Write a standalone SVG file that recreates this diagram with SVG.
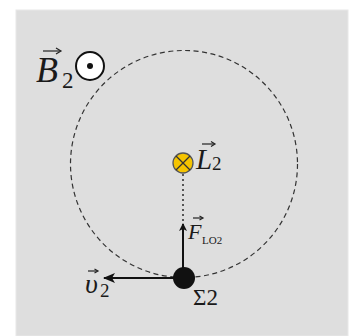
<svg xmlns="http://www.w3.org/2000/svg" width="350" height="336" viewBox="0 0 350 336">
<style>
.lbl{font-family:'Liberation Serif','DejaVu Serif','Times New Roman',serif;font-style:italic;fill:#1a1a1a}
.up{font-family:'Liberation Serif','DejaVu Serif','Times New Roman',serif;fill:#1a1a1a}
.vec{stroke:#222;stroke-width:1.2;fill:none}
</style>
<defs>
<marker id="ah" viewBox="0 0 12 10" refX="11" refY="5" markerWidth="12" markerHeight="10" markerUnits="userSpaceOnUse" orient="auto">
<path d="M0,0 L12,5 L0,10 L3,5 Z" fill="#111"/>
</marker>
<marker id="ah2" viewBox="0 0 8 8" refX="7" refY="4" markerWidth="8" markerHeight="8" markerUnits="userSpaceOnUse" orient="auto">
<path d="M0,0 L8,4 L0,8 L2,4 Z" fill="#111"/>
</marker>
</defs>
<rect x="0" y="0" width="350" height="336" fill="#ffffff"/>
<rect x="16" y="10" width="332" height="326" fill="#dedede" stroke="#e8e8e8" stroke-width="1"/>
<g id="orbit">
<circle cx="184" cy="164" r="113.5" fill="none" stroke="#333" stroke-width="1.2" stroke-dasharray="5,3.5"/>
</g>
<g id="connectors">
<line x1="183" y1="174" x2="183" y2="222" stroke="#333" stroke-width="1.6" stroke-dasharray="2,3"/>
<line x1="183" y1="272" x2="183" y2="224" stroke="#111" stroke-width="2" marker-end="url(#ah2)"/>
<line x1="178" y1="278" x2="104" y2="278" stroke="#111" stroke-width="2" marker-end="url(#ah)"/>
</g>
<g id="B2">
<text class="lbl" x="36" y="82" font-size="36">B</text>
<text class="up" x="62" y="88" font-size="23">2</text>
<line class="vec" x1="43" y1="51" x2="60" y2="51"/>
<path d="M56,48 L61,51 L56,54" class="vec"/>
<circle cx="90" cy="66" r="14" fill="#fff" stroke="#111" stroke-width="2"/>
<circle cx="90" cy="66" r="3" fill="#111"/>
</g>
<g id="L2">
<circle cx="183" cy="163" r="10" fill="#f5c400" stroke="#555" stroke-width="1.3"/>
<line x1="176" y1="156" x2="190" y2="170" stroke="#333" stroke-width="1.3"/>
<line x1="190" y1="156" x2="176" y2="170" stroke="#333" stroke-width="1.3"/>
<text class="lbl" x="196" y="169" font-size="29">L</text>
<text class="up" x="212" y="170" font-size="19">2</text>
<line class="vec" x1="202" y1="144" x2="214" y2="144"/>
<path d="M211,141.5 L215,144 L211,146.5" class="vec"/>
</g>
<g id="F">
<text class="lbl" x="188" y="239" font-size="22">F</text>
<text class="up" x="202" y="244" font-size="11">LO2</text>
<line class="vec" x1="193" y1="218" x2="202" y2="218"/>
<path d="M199.5,216 L203,218 L199.5,220" class="vec"/>
</g>
<g id="v2">
<text class="lbl" x="85" y="293" font-size="28">υ</text>
<text class="up" x="100" y="297" font-size="19">2</text>
<line class="vec" x1="88" y1="271" x2="97" y2="271"/>
<path d="M94.5,269 L98,271 L94.5,273" class="vec"/>
</g>
<g id="sigma2">
<circle cx="184" cy="278" r="11" fill="#111"/>
<text class="up" x="193" y="305" font-size="23">Σ2</text>
</g>
</svg>
